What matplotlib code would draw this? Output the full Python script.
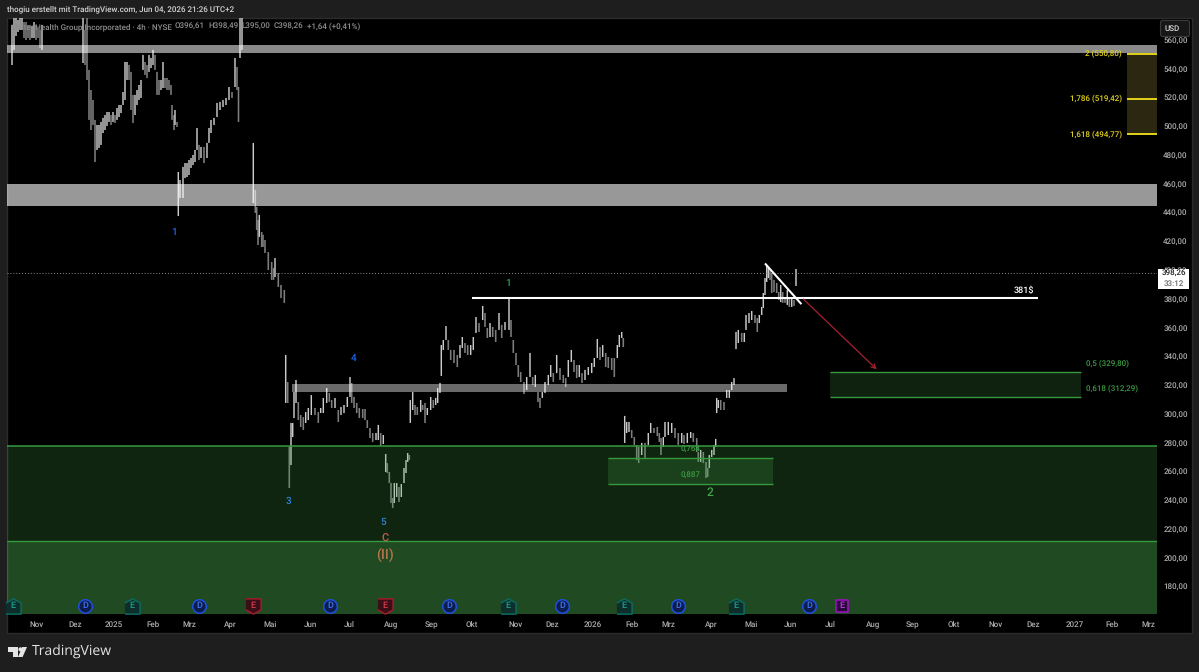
import numpy as np
import matplotlib
matplotlib.use("Agg")
import matplotlib.pyplot as plt
from matplotlib.patches import Rectangle, FancyBboxPatch, Polygon, Circle

plt.rcParams["font.family"] = ["Roboto", "DejaVu Sans"]
plt.rcParams["font.weight"] = "medium"
plt.rcParams["text.hinting"] = "no_hinting"
plt.rcParams["text.hinting_factor"] = 1

W, H = 1199, 672
LAST_PRICE = 398.26
SMALL = 5.9
HEADER = 5.6

# price scale
price_ticks = [180, 200, 220, 240, 260, 280, 300, 320, 340, 360, 380, 400,
               420, 440, 460, 480, 500, 520, 540, 560]
price_labels = ["%d,00" % p for p in price_ticks]

# time scale, positions are chart slots
month_slots = [37, 75, 114, 153, 189, 230, 270, 311, 349, 391, 432, 472, 516, 552, 593,
               632, 668, 711, 751, 790, 830, 873, 913, 954, 996, 1033, 1075, 1112, 1148]
month_labels = ["Nov", "Dez", "2025", "Feb", "Mrz", "Apr", "Mai", "Jun", "Jul", "Aug",
                "Sep", "Okt", "Nov", "Dez", "2026", "Feb", "Mrz", "Apr", "Mai", "Jun",
                "Jul", "Aug", "Sep", "Okt", "Nov", "Dez", "2027", "Feb", "Mrz"]

# bars: slot, high, low
leg_a = [(12, 571.0, 543.1), (14, 575.8, 553.6), (16, 575.8, 563.3), (18, 574.4, 566.1),
         (20, 575.8, 567.5), (22, 575.8, 567.5), (24, 573.0, 561.9), (26, 573.0, 560.5),
         (28, 571.0, 561.9), (30, 571.0, 560.5), (32, 570.3, 561.9), (34, 573.0, 561.9),
         (36, 571.0, 560.5), (38, 568.9, 561.9), (40, 567.5, 555.0), (42, 571.0, 553.6)]
leg_b = [(83, 575.8, 544.5), (85, 567.5, 543.1), (87, 575.8, 532.7), (89, 539.7, 504.9),
         (91, 525.7, 497.9), (93, 518.8, 501.4), (95, 504.9, 475.6), (97, 501.4, 484.0),
         (99, 501.4, 485.4), (101, 503.5, 487.5), (103, 506.3, 495.8), (105, 508.3, 497.9),
         (107, 510.4, 500.7), (109, 510.4, 503.5), (111, 508.3, 501.4), (113, 510.4, 503.5),
         (115, 508.3, 502.8), (117, 513.2, 504.9), (119, 515.3, 506.9), (121, 515.3, 509.7),
         (123, 524.3, 515.3), (125, 545.2, 518.8), (127, 545.2, 532.7), (129, 543.1, 532.7),
         (131, 538.3, 511.8), (133, 522.3, 502.8), (135, 522.3, 508.3), (137, 525.7, 515.3),
         (139, 529.2, 518.8), (141, 532.7, 520.2), (143, 550.1, 539.7), (145, 545.2, 536.2),
         (147, 543.1, 534.1), (149, 550.1, 538.3), (151, 548.0, 541.0), (153, 553.6, 543.1),
         (155, 550.1, 539.7), (157, 538.3, 522.3), (159, 532.7, 522.3), (161, 532.7, 525.7),
         (163, 545.2, 527.1), (165, 534.1, 527.1), (167, 534.1, 525.7), (169, 532.7, 525.7),
         (171, 529.2, 522.3), (172, 515.3, 504.9), (174, 508.3, 497.9), (175, 511.8, 501.4),
         (177, 503.5, 500.0)]
leg_c = [(178.3, 468.7, 438.1), (180, 463.1, 450.6), (183, 472.2, 450.6), (185, 474.9, 464.5),
         (187, 474.9, 465.2), (189, 477.0, 466.6), (191, 478.4, 471.5), (193, 480.5, 473.5),
         (195, 484.0, 475.6), (197, 499.3, 484.0), (199, 487.5, 477.0), (201, 486.1, 478.4),
         (204, 486.1, 474.9), (207, 488.9, 478.4), (209, 499.3, 488.9), (211, 504.9, 495.8),
         (214, 506.3, 501.4), (217, 516.7, 506.9), (220, 517.4, 511.8), (223, 518.8, 513.9),
         (226, 520.2, 515.3), (229, 527.8, 518.8), (232, 524.3, 520.2), (235, 548.0, 527.8),
         (237, 541.7, 525.7), (238.5, 527.8, 503.5), (240, 575.8, 548.0), (242, 575.8, 553.6)]
leg_d = [(253.3, 488.9, 447.1), (255.3, 456.2, 440.2), (256.7, 444.3, 428.3), (258, 435.3, 417.9),
         (259.3, 438.8, 423.5), (261.7, 426.9, 416.5), (263, 425.0, 416.5), (265, 421.4, 412.3),
         (268.3, 413.0, 400.5), (271.7, 406.1, 393.6), (273.5, 401.9, 393.6), (275, 408.8, 395.6),
         (278.3, 398.4, 388.7), (281, 390.1, 381.0), (284.3, 386.6, 377.6)]
leg_e = [(285.7, 341.4, 308.0), (287.7, 322.6, 308.0), (289.3, 277.4, 248.8), (291, 294.1, 264.8),
         (292.7, 294.1, 284.3), (294, 315.6, 297.5), (296, 324.0, 308.0), (298.3, 308.7, 296.1),
         (300.7, 299.6, 291.3), (303.3, 298.2, 289.2), (305.7, 301.7, 294.1), (308.3, 304.5, 296.1),
         (311.3, 313.5, 299.6), (315, 304.5, 299.6), (318.3, 301.7, 294.1), (320.7, 304.5, 301.0),
         (323.3, 311.5, 301.0), (326.7, 318.4, 308.0), (329.3, 315.0, 308.7), (331.7, 310.1, 304.5),
         (335, 311.5, 304.5), (338.3, 303.1, 294.8), (341, 305.2, 299.6), (344, 306.6, 301.0),
         (347.3, 312.2, 305.2), (350, 326.1, 312.2), (351.7, 321.9, 308.0), (354, 312.2, 304.5),
         (356.7, 308.0, 301.0), (359.3, 304.5, 297.5), (362.7, 303.8, 297.5), (365, 303.8, 296.1),
         (367.3, 296.1, 290.6), (370, 290.6, 283.6), (372.7, 287.1, 280.9), (376, 287.1, 282.2),
         (378.3, 292.7, 282.2), (380.7, 287.1, 278.1), (383.3, 285.7, 279.5)]
leg_f = [(385.7, 272.5, 260.0), (387.3, 266.2, 259.3), (389.3, 260.0, 252.3), (391, 252.3, 238.4),
         (392.7, 241.9, 234.9), (394.3, 252.3, 238.4), (396.7, 252.3, 242.6), (399, 249.5, 239.1),
         (401.3, 251.6, 242.6), (404, 262.8, 252.3), (406, 268.3, 259.3), (407.7, 273.2, 267.0),
         (409.3, 271.8, 268.3)]
leg_g = [(410.3, 310.1, 294.1), (412.7, 315.6, 303.1), (415, 306.6, 299.6), (417.3, 305.2, 299.6),
         (420.7, 310.1, 301.7), (422.7, 306.6, 303.1), (425, 308.0, 294.1), (427.3, 304.5, 299.6),
         (430.7, 312.2, 303.1), (433.3, 310.1, 304.5), (435.7, 311.5, 306.6), (437.7, 318.4, 308.0),
         (440, 321.9, 315.0)]
leg_h = [(441.3, 348.3, 326.8), (443.3, 351.8, 344.9), (446, 361.5, 351.8), (448.3, 351.8, 344.9),
         (450.7, 344.9, 337.9), (454, 344.9, 335.8), (457.3, 341.4, 333.0), (460, 348.3, 339.3),
         (462.3, 353.9, 346.3), (465, 349.7, 342.8), (467.7, 348.3, 341.4), (470.7, 348.3, 341.4),
         (473.3, 353.9, 344.9), (476, 367.8, 356.7), (479, 363.6, 357.4), (482.7, 375.5, 365.7),
         (485, 370.6, 360.9), (487.3, 360.2, 353.2), (490, 363.6, 353.9), (492.7, 360.9, 353.9),
         (495.7, 358.8, 350.4), (499, 370.6, 358.8), (501.7, 362.3, 353.2), (505, 364.3, 358.8),
         (509, 381.0, 358.8), (511, 365.7, 353.9), (513.3, 351.8, 342.8), (516, 342.8, 334.4),
         (518.3, 334.4, 326.1), (520.7, 329.5, 322.6), (524, 322.6, 314.2), (526.7, 326.1, 317.0),
         (530, 342.8, 326.1), (532.7, 326.1, 320.5), (535.3, 327.5, 319.1), (538, 315.6, 308.7),
         (540, 311.5, 304.5), (542.3, 315.6, 311.5), (545, 322.6, 315.0), (548.3, 327.5, 320.5),
         (550.7, 334.4, 326.1), (553.3, 328.8, 322.6), (556.7, 341.4, 328.8), (560, 332.3, 324.0),
         (563.3, 327.5, 321.9), (565.7, 325.3, 319.1), (568.3, 337.9, 326.1), (571.3, 344.9, 336.5),
         (574, 337.9, 329.5), (576.7, 334.4, 325.3), (579.3, 334.4, 326.1), (582, 328.8, 321.9),
         (585, 331.0, 324.0), (588.3, 333.0, 327.5), (591.7, 335.8, 328.8), (594.3, 339.3, 333.0),
         (597.3, 352.5, 339.3), (600, 346.9, 337.9), (602.7, 348.3, 340.0), (605.7, 342.8, 333.0),
         (608.3, 340.0, 332.3), (611.7, 339.3, 331.0), (614.3, 339.3, 326.1), (617.3, 348.3, 339.3),
         (619.3, 355.3, 346.9), (621.7, 357.4, 353.2), (623.3, 353.2, 346.9)]
leg_j = [(624.7, 299.0, 280.2), (626.7, 294.8, 287.1), (629, 294.8, 287.8), (631.7, 289.2, 283.6),
         (634.3, 284.3, 278.8), (636.7, 278.8, 268.3), (638.7, 277.4, 266.2), (641.7, 280.2, 271.8),
         (645, 280.2, 269.7), (648.3, 287.1, 278.8), (650.7, 294.1, 287.1), (654, 290.6, 287.1),
         (657.3, 291.3, 285.0), (659.3, 287.1, 280.9), (661, 283.6, 271.8), (663.3, 284.3, 277.4),
         (665, 294.8, 284.3), (668.3, 294.8, 285.7), (671.7, 294.1, 287.1), (675, 290.6, 283.6),
         (678.3, 287.1, 278.8), (681.7, 287.1, 280.2), (684, 285.7, 279.5), (687.3, 287.1, 280.2),
         (690.7, 287.8, 283.6), (693.3, 287.1, 280.9), (696.7, 283.6, 273.9), (698.3, 273.9, 267.0),
         (700.7, 275.3, 267.0), (703.3, 273.9, 266.2), (706, 267.0, 255.8), (707.7, 262.8, 256.5),
         (709.3, 271.8, 262.8), (711.7, 275.3, 270.4), (714, 278.8, 271.8), (715.7, 283.0, 277.4)]
leg_k = [(716.7, 311.5, 301.0), (718.3, 310.1, 304.5), (720.7, 310.1, 303.1), (724, 308.7, 303.1),
         (726.7, 317.0, 311.5), (729.3, 317.0, 311.5), (731.7, 322.6, 317.0), (734, 325.3, 320.5)]
leg_l = [(736, 357.4, 345.5), (738.3, 358.8, 349.7), (741.7, 356.7, 350.4), (744.3, 356.7, 350.4),
         (746, 369.2, 358.8), (749, 370.6, 363.6), (751.7, 372.0, 365.7), (755, 369.2, 363.6),
         (757.3, 367.1, 357.4), (759.3, 369.2, 363.6), (761.7, 374.8, 369.2), (763.3, 384.5, 374.1),
         (765, 394.9, 383.1), (766.7, 404.0, 392.2), (768.3, 401.9, 394.9), (770, 400.5, 393.6),
         (771.7, 398.4, 384.5), (774, 393.6, 385.2), (776.7, 391.5, 384.5), (778.7, 385.2, 379.6),
         (780.7, 390.1, 378.2), (782.7, 385.2, 377.6), (785, 381.7, 377.6), (787.3, 386.6, 376.2),
         (789.3, 381.0, 374.8), (791.7, 381.0, 374.8), (794, 379.6, 375.5), (796, 401.2, 389.4)]
legs = [leg_a, leg_b, leg_c, leg_d, leg_e, leg_f, leg_g, leg_h, leg_j, leg_k, leg_l]

# zones: left slot, right slot, top price, bottom price
band_top = (7, 1157, 557.0, 551.7)
band_upper = (7, 1157, 460.3, 445.0)
band_mid = (292, 787, 321.0, 315.8)
zone_large = (7, 1157, 278.1, 161.2)
zone_low = (7, 1157, 212.0, 161.2)
zone_inner = (608.3, 772.7, 269.5, 251.4)
target_zone = (830, 1081, 329.80, 312.29)
fib_slots = (1127, 1157)
fib_levels = [550.80, 519.42, 494.77]
fib_labels = ["2 (550,80)", "1,786 (519,42)", "1,618 (494,77)"]

# header quote pieces: slot, text
quote_parts = [(12, "UnitedHealth Group Incorporated · 4h · NYSE"), (175, "O396,61"), (208, "H398,49"),
               (241, "L395,00"), (274, "C398,26"), (307, "+1,64 (+0,41%)")]

# wave counts: slot, price, text, colour, size
wave_marks = [(174, 426.9, "1", "#1f63e8", 7), (288, 239.8, "3", "#2f7fd6", 7),
              (353.5, 339.3, "4", "#1f63e8", 7), (383.5, 225.2, "5", "#2f7fd6", 7),
              (385, 213.4, "C", "#c4604a", 8), (385, 202.2, "(II)", "#b5744e", 10),
              (508, 391.5, "1", "#2ea043", 7), (710, 245.4, "2", "#3fa64a", 8.5)]

# events on the time scale
earn_up = [13, 132, 508, 624, 736]
earn_down = [253, 385]
dividends = [85, 199, 330, 449, 562, 678, 809]
earn_next = [842]

fig = plt.figure(figsize=(W / 100, H / 100), dpi=100, facecolor="#1e1e1e")


def px_axes(zorder):
    a = fig.add_axes([0, 0, 1, 1], zorder=zorder)
    a.set_xlim(0, W)
    a.set_ylim(H, 0)
    a.axis("off")
    a.patch.set_alpha(0)
    return a


back = px_axes(0)
back.add_patch(Rectangle((7, 18), 1185, 615, fc="black", ec="#2c2c2c", lw=1))

ax = fig.add_axes([7 / W, 1 - 614 / H, 1150 / W, 596 / H], zorder=1)
ax.set_facecolor("black")
ax.patch.set_alpha(0)
ax.set_xlim(7, 1157)
ax.set_ylim(161.2, 575.8)
for s in ax.spines.values():
    s.set_visible(False)

ax.yaxis.tick_right()
ax.set_yticks(price_ticks)
ax.set_yticklabels(price_labels)
ax.set_xticks(month_slots)
ax.set_xticklabels(month_labels)
ax.tick_params(axis="y", length=0, pad=4.5, labelsize=SMALL, labelcolor="#ababab")
ax.tick_params(axis="x", length=0, pad=5, labelsize=SMALL, labelcolor="#ababab")

# bars, lighter when the mid price rises
for leg in legs:
    rows = np.array(leg)
    mid = (rows[:, 1] + rows[:, 2]) / 2
    rising = np.r_[True, mid[1:] >= mid[:-1]]
    low_bars = ax.vlines(rows[~rising, 0], rows[~rising, 2], rows[~rising, 1], color="#7e7e7e", lw=1.15, zorder=2)
    up_bars = ax.vlines(rows[rising, 0], rows[rising, 2], rows[rising, 1], color="#cacaca", lw=1.05, zorder=2)
    low_bars.set_snap(False)
    up_bars.set_snap(False)


def zone(z, color, alpha, zorder=3):
    ax.add_patch(Rectangle((z[0], z[3]), z[1] - z[0], z[2] - z[3], fc=color, ec="none",
                           alpha=alpha, zorder=zorder))


zone(band_top, "white", 0.54)
zone(band_upper, "white", 0.60)
zone(band_mid, "white", 0.42)

green = "#4caf50"
line_green = "#359a3d"
zone(zone_large, green, 0.21)
zone(zone_low, green, 0.27)
zone(zone_inner, green, 0.20)
zone(target_zone, green, 0.20)
ax.hlines(zone_large[2], 7, 1157, color=line_green, lw=1.1, zorder=4)
ax.hlines(zone_low[2], 7, 1157, color=line_green, lw=1.0, zorder=4)
ax.hlines(zone_inner[2:], zone_inner[0], zone_inner[1], color=line_green, lw=1.0, zorder=4)
ax.hlines(target_zone[2:], target_zone[0], target_zone[1], color=line_green, lw=1.0, zorder=4)

# fib extension on the right
ax.add_patch(Rectangle((fib_slots[0], fib_levels[2]), fib_slots[1] - fib_slots[0],
                       fib_levels[0] - fib_levels[2], fc="#2c2710", ec="none", zorder=3))
ax.hlines(fib_levels, fib_slots[0], fib_slots[1], color="#e3d21c", lw=1.4, zorder=4)
for level, label in zip(fib_levels, fib_labels):
    ax.text(1122, level, label, color="#e3d21c", fontsize=SMALL, ha="right", va="center", zorder=5)

# last price, resistance, trendline and the projected move
ax.hlines(LAST_PRICE, 7, 1157, color="#8f8f8f", lw=0.7, linestyles=(0, (1, 2)), zorder=2)
ax.hlines(381, 472, 1038, color="white", lw=1.5, zorder=5)
ax.plot([765.7, 800.7], [404.5, 377.3], color="white", lw=1.5, zorder=5)
ax.annotate("", xy=(876.7, 331.4), xytext=(803.3, 380.3), zorder=5,
            arrowprops=dict(arrowstyle="->", color="#a82030", lw=0.9, mutation_scale=8,
                            shrinkA=0, shrinkB=0))
ax.text(1024, 386.5, "381$", color="white", fontsize=6.8, ha="center", va="center", zorder=6)

for x, y, t, c, fs in wave_marks:
    ax.text(x, y, t, color=c, fontsize=fs, ha="center", va="center", zorder=6)

green_text = "#3b9a41"
ax.text(691, 275.3, "0,764", color=green_text, fontsize=SMALL, ha="center", va="center", zorder=6)
ax.text(691, 257.3, "0,887", color=green_text, fontsize=SMALL, ha="center", va="center", zorder=6)
ax.text(1086, 335.2, "0,5 (329,80)", color=green_text, fontsize=SMALL, va="center", zorder=6)
ax.text(1086, 317.8, "0,618 (312,29)", color=green_text, fontsize=SMALL, va="center", zorder=6)

# event badges sit on a fixed height above the time scale
house = [(-1, -1), (1, -1), (1, 0.45), (0, 1), (-1, 0.45)]
shield = [(-1, 1), (1, 1), (1, -0.45), (0, -1), (-1, -0.45)]
badge_y = 8 / 596
trans = ax.get_xaxis_transform()


def badges(slots, marker, fc, ec, tc, text, size=120):
    ax.scatter(slots, [badge_y] * len(slots), marker=marker, s=size, facecolor=fc, edgecolor=ec,
               lw=1.1, transform=trans, zorder=7, clip_on=False)
    for x in slots:
        ax.text(x, badge_y, text, color=tc, fontsize=6.3, ha="center", va="center",
                transform=trans, zorder=8)


badges(earn_up, house, "#0d2e2a", "#0c6a5f", "#19a08f", "E")
badges(earn_down, shield, "#3a0f18", "#a01c2c", "#d63a4a", "E")
badges(dividends, "o", "#0c1c4c", "#1f50dc", "#3f74f0", "D", size=95)
badges(earn_next, "s", "#2a0a3a", "#a010c8", "#c832ea", "E", size=85)

# chrome around the chart
top = px_axes(5)
top.text(7, 9, "thogiu erstellt mit TradingView.com, Jun 04, 2026 21:26 UTC+2",
         color="#d4d4d4", fontsize=HEADER, va="center")
for x, part in quote_parts:
    top.text(x, 27, part, color="#8e8e8e", fontsize=HEADER, va="center")

top.add_patch(FancyBboxPatch((1161, 21), 28, 15, boxstyle="round,pad=0.5,rounding_size=2",
                             fc="#171717", ec="#3a3a3a", lw=0.8))
top.text(1172.5, 28.8, "USD", color="#d6d6d6", fontsize=SMALL, ha="center", va="center")

top.add_patch(Rectangle((1158, 269), 31, 20, fc="white", ec="none"))
top.text(1173.5, 274, "398,26", color="#202020", fontsize=SMALL, ha="center", va="center")
top.text(1173.5, 283.5, "33:12", color="#6a6a6a", fontsize=SMALL, ha="center", va="center")

logo = "#e4e4e4"
top.add_patch(Polygon([(8, 647), (18, 647), (18, 657), (13, 657), (13, 652), (8, 652)], fc=logo, ec="none"))
top.add_patch(Circle((20.5, 649.4), 2.1, fc=logo, ec="none"))
top.add_patch(Polygon([(22.3, 647), (27, 647), (22.6, 657), (18, 657)], fc=logo, ec="none"))
top.text(32, 652, "TradingView", color=logo, family="Open Sans", fontsize=10.3, va="center", fontweight="medium")

fig.savefig("out.png", dpi=100, facecolor=fig.get_facecolor())
